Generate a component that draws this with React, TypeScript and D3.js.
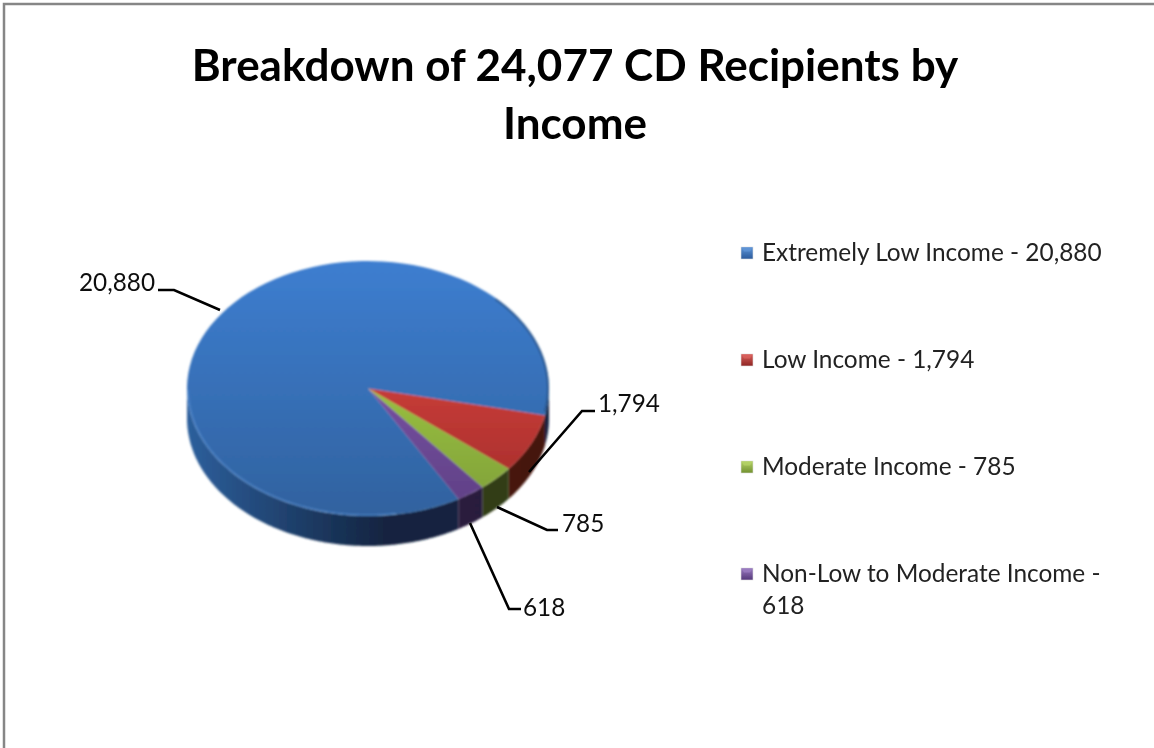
import { useMemo } from 'react'
import * as d3 from 'd3'

const categories = ['Extremely Low Income', 'Low Income', 'Moderate Income', 'Non-Low to Moderate Income']
const values = [20880, 1794, 785, 618]
const valueLabels = ['20,880', '1,794', '785', '618']
const titleLines = ['Breakdown of 24,077 CD Recipients by', 'Income']

const topColors = [
  ['#3d7ed0', '#31629f'],
  ['#c63c38', '#a02b28'],
  ['#98bf40', '#7e9e38'],
  ['#7650a0', '#5e3f84'],
]
const wallColors = [
  ['#2d5f9c', '#12233f'],
  ['#4f1610', '#45130e'],
  ['#364618', '#2f3c16'],
  ['#2c1d42', '#281a3b'],
]
const swatchColors = [
  ['#5f95d6', '#2a5a9c'],
  ['#d9605c', '#8e2522'],
  ['#b4d267', '#71902f'],
  ['#9a7cc0', '#54387a'],
]

// label anchors and their leader lines, in page pixels
const dataLabels = [
  { x: 79, y: 291, points: [[158, 290], [174, 290], [220, 310]] },
  { x: 598, y: 412, points: [[595, 411], [582, 411], [529, 472]] },
  { x: 562, y: 532, points: [[558, 530], [547, 530], [497, 507]] },
  { x: 523, y: 616, points: [[521, 609], [509, 609], [470, 523]] },
]

const width = 1154
const height = 748
const cx = 368
const cy = 388.5
const rx = 181
const ry = 127.5
const depth = 30
const start = (150 * Math.PI) / 180

const legendX = 741
const legendRows = [261, 368, 475, 582]
const fontFamily = 'Lato, "Open Sans", sans-serif'

export default function App() {
  const arcs = useMemo(
    () => d3.pie<number>().sort(null).startAngle(start).endAngle(start + 2 * Math.PI)(values),
    []
  )
  const arcGen = d3.arc<d3.PieArcDatum<number>>().innerRadius(0).outerRadius(rx)
  const leader = d3.line()

  // the side wall is only visible where the rim faces the viewer
  const wall = d3
    .area<number>()
    .x(a => cx + rx * Math.sin(a))
    .y0(a => cy - ry * Math.cos(a))
    .y1(a => cy - ry * Math.cos(a) + depth)

  const wallPaths = (a0: number, a1: number) => {
    const out: string[] = []
    const turns = [0, 1]
    turns.forEach(t => {
      const lo = Math.max(a0, Math.PI / 2 + t * 2 * Math.PI)
      const hi = Math.min(a1, (3 * Math.PI) / 2 + t * 2 * Math.PI)
      if (hi > lo) out.push(wall(d3.range(lo, hi, 0.01).concat(hi)) as string)
    })
    return out
  }

  const rim = d3
    .line<number>()
    .x(a => cx + (rx - 1) * Math.sin(a))
    .y(a => cy - (ry - 1) * Math.cos(a))

  return (
    <svg
      width={width}
      height={height}
      style={{ position: 'absolute', left: 0, top: 0, background: '#fff' }}
      fontFamily={fontFamily}
    >
      <defs>
        {topColors.map((c, i) => (
          <linearGradient
            key={i}
            id={`top${i}`}
            gradientUnits="userSpaceOnUse"
            x1={0}
            x2={0}
            y1={i === 0 ? -rx : 0}
            y2={rx}
          >
            <stop offset="0" stopColor={c[0]} />
            <stop offset="1" stopColor={c[1]} />
          </linearGradient>
        ))}
        {wallColors.map((c, i) => (
          <linearGradient
            key={i}
            id={`wall${i}`}
            gradientUnits="userSpaceOnUse"
            x1={cx - rx}
            x2={i === 0 ? cx + 20 : cx + rx}
            y1={0}
            y2={0}
          >
            <stop offset="0" stopColor={c[0]} />
            <stop offset="1" stopColor={c[1]} />
          </linearGradient>
        ))}
        {swatchColors.map((c, i) => (
          <linearGradient key={i} id={`swatch${i}`} x1="0" x2="0" y1="0" y2="1">
            <stop offset="0" stopColor={c[0]} />
            <stop offset="1" stopColor={c[1]} />
          </linearGradient>
        ))}
        <filter id="soft" x="-5%" y="-5%" width="110%" height="110%">
          <feGaussianBlur stdDeviation="0.9" />
        </filter>
        <filter id="textSoft" x="-5%" y="-5%" width="110%" height="110%">
          <feGaussianBlur stdDeviation="0.35" />
        </filter>
      </defs>

      <path d={`M4 748V4H1154`} fill="none" stroke="#868686" strokeWidth={2.5} />

      <g filter="url(#textSoft)">
        {titleLines.map((t, i) => (
          <text
            key={t}
            x={575}
            y={81 + i * 58}
            textAnchor="middle"
            fontSize={44}
            fontWeight={700}
            fill="#000"
          >
            {t}
          </text>
        ))}
      </g>

      <g filter="url(#soft)">
        {arcs.map((d, i) =>
          wallPaths(d.startAngle, d.endAngle).map((p, j) => (
            <path key={`${i}-${j}`} d={p} fill={`url(#wall${i})`} />
          ))
        )}
        <g transform={`translate(${cx},${cy}) scale(1,${ry / rx})`}>
          {arcs.map((d, i) => (
            <path key={i} d={arcGen(d) as string} fill={`url(#top${i})`} />
          ))}
        </g>
        <path
          d={rim(d3.range(Math.PI * 0.95, Math.PI * 1.5, 0.01)) as string}
          fill="none"
          stroke="#5b93d8"
          strokeOpacity={0.55}
          strokeWidth={1.4}
        />
        <path
          d={rim(d3.range(Math.PI * 0.25, Math.PI * 0.56, 0.01)) as string}
          fill="none"
          stroke="#1d3f6c"
          strokeOpacity={0.6}
          strokeWidth={2}
        />
      </g>

      <g filter="url(#textSoft)">
        {dataLabels.map((l, i) => (
          <g key={i}>
            <path
              d={leader(l.points as [number, number][]) as string}
              fill="none"
              stroke="#000"
              strokeWidth={2.6}
            />
            <text x={l.x} y={l.y} fontSize={24.3} fill="#111">
              {valueLabels[i]}
            </text>
          </g>
        ))}

        {categories.map((c, i) => {
          const y = legendRows[i]
          const wrap = i === 3
          return (
            <g key={c}>
              <rect x={legendX} y={y - 14} width={12} height={12} fill={`url(#swatch${i})`} stroke="#ddd" strokeWidth={0.6} />
              <path
                d={`M${legendX + 0.5} ${y - 13.5}h11l-2.5 4h-6z`}
                fill={swatchColors[i][0]}
                opacity={0.8}
              />
              <text x={legendX + 21} y={y} fontSize={24.4} fill="#222">
                {wrap ? `${c} -` : `${c} - ${valueLabels[i]}`}
              </text>
              {wrap && (
                <text x={legendX + 21} y={y + 32} fontSize={24.4} fill="#222">
                  {valueLabels[i]}
                </text>
              )}
            </g>
          )
        })}
      </g>
    </svg>
  )
}
